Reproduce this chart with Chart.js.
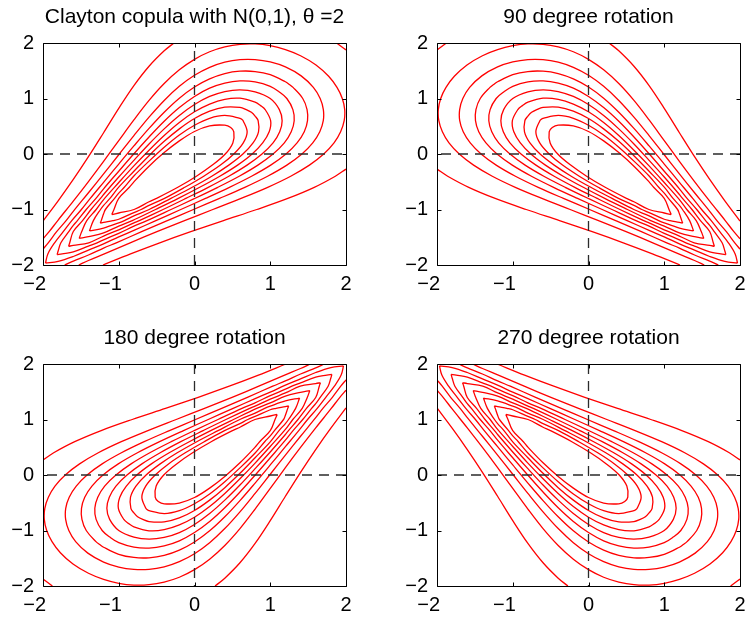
<!DOCTYPE html>
<html><head><meta charset="utf-8">
<script src="https://cdn.jsdelivr.net/npm/chart.js@4.4.1/dist/chart.umd.min.js"></script>
<style>
html,body{margin:0;padding:0;background:#fff;overflow:hidden;width:751px;height:621px;position:relative;}
canvas{position:absolute;}
</style></head><body>
<canvas id="p1" width="389" height="310" style="left:0px;top:0px"></canvas>
<canvas id="p2" width="389" height="310" style="left:394px;top:0px"></canvas>
<canvas id="p3" width="389" height="310" style="left:0px;top:321px"></canvas>
<canvas id="p4" width="389" height="310" style="left:394px;top:321px"></canvas>
<script>
// ---- tick values and panel titles ----
const axisTicks = [-2, -1, 0, 1, 2];
const titles = ['Clayton copula with N(0,1), \u03b8 =2', '90 degree rotation', '180 degree rotation', '270 degree rotation'];
// rotation of each panel: sign applied to x and y of the base contours
const rotX = [1, -1, -1, 1];
const rotY = [1, 1, -1, -1];
// dashed reference lines (x = 0 and y = 0)
const zeroLineH = [[-2, 0], [2, 0]];
const zeroLineV = [[0, -2], [0, 2]];

// ---- contour lines of the first panel, outer to inner ----
// level ~0.01 : three pieces cut by the frame
const c01a = [[-2,-1.208],[-1.8,-0.844],[-1.6,-0.459],[-1.4,-0.049],[-1.2,0.383],[-1.0,0.822],[-0.8,1.232],[-0.6,1.581],[-0.4,1.859],[-0.272,2]];
const c01b = [[-1.208,-2],[-0.844,-1.8],[-0.459,-1.6],[-0.049,-1.4],[0.383,-1.2],[0.822,-1.0],[1.232,-0.8],[1.581,-0.6],[1.859,-0.4],[2,-0.272]];
const c01c = [[1.876,2],[1.938,1.938],[2,1.876]];
// level ~0.03
const c03 = [[-2,-1.528],[-1.919,-1.4],[-1.8,-1.19],[-1.6,-0.849],[-1.4,-0.496],[-1.2,-0.132],[-1.0,0.242],[-0.8,0.615],[-0.6,0.966],[-0.4,1.27],[-0.2,1.517],[0,1.706],[0.2,1.842],[0.4,1.929],[0.6,1.976],[0.8,1.983],[1.0,1.951],[1.2,1.881],[1.4,1.771],[1.604,1.604],
  [1.771,1.4],[1.881,1.2],[1.951,1.0],[1.983,0.8],[1.976,0.6],[1.929,0.4],[1.842,0.2],[1.706,0],[1.517,-0.2],[1.27,-0.4],[0.966,-0.6],[0.615,-0.8],[0.242,-1.0],[-0.132,-1.2],[-0.496,-1.4],[-0.849,-1.6],[-1.19,-1.8],[-1.4,-1.919],[-1.528,-2]];
// level ~0.05
const c05 = [[-2,-1.714],[-1.931,-1.6],[-1.82,-1.4],[-1.695,-1.2],[-1.6,-1.033],[-1.4,-0.698],[-1.2,-0.359],[-1.0,-0.014],[-0.8,0.331],[-0.6,0.664],[-0.4,0.965],[-0.2,1.219],[0,1.418],[0.2,1.561],[0.4,1.654],[0.6,1.7],[0.8,1.701],[1.0,1.659],[1.2,1.569],[1.408,1.408],
  [1.569,1.2],[1.659,1.0],[1.701,0.8],[1.7,0.6],[1.654,0.4],[1.561,0.2],[1.418,0],[1.219,-0.2],[0.965,-0.4],[0.664,-0.6],[0.331,-0.8],[-0.014,-1.0],[-0.359,-1.2],[-0.698,-1.4],[-1.033,-1.6],[-1.2,-1.695],[-1.4,-1.82],[-1.6,-1.931],[-1.714,-2]];
// level ~0.07
const c07 = [[-1.967,-1.967],[-1.936,-1.8],[-1.847,-1.6],[-1.733,-1.4],[-1.62,-1.2],[-1.493,-1.0],[-1.376,-0.8],[-1.2,-0.51],[-1.0,-0.181],[-0.8,0.145],[-0.6,0.461],[-0.4,0.753],[-0.2,1.006],[0,1.208],[0.2,1.354],[0.4,1.449],[0.6,1.492],[0.8,1.486],[1.0,1.429],[1.2,1.301],[1.252,1.252],
  [1.301,1.2],[1.429,1.0],[1.486,0.8],[1.492,0.6],[1.449,0.4],[1.354,0.2],[1.208,0],[1.006,-0.2],[0.753,-0.4],[0.461,-0.6],[0.145,-0.8],[-0.181,-1.0],[-0.51,-1.2],[-0.8,-1.376],[-1.0,-1.493],[-1.2,-1.62],[-1.4,-1.733],[-1.6,-1.847],[-1.8,-1.936],[-1.967,-1.967]];
// level ~0.09
const c09 = [[-1.814,-1.814],[-1.8,-1.747],[-1.764,-1.6],[-1.66,-1.4],[-1.6,-1.286],[-1.546,-1.2],[-1.429,-1.0],[-1.301,-0.8],[-1.2,-0.627],[-1.0,-0.31],[-0.8,0.004],[-0.6,0.307],[-0.4,0.59],[-0.2,0.837],[0,1.037],[0.2,1.186],[0.4,1.277],[0.6,1.316],[0.8,1.299],[1.0,1.219],[1.118,1.118],
  [1.219,1.0],[1.299,0.8],[1.316,0.6],[1.277,0.4],[1.186,0.2],[1.037,0],[0.837,-0.2],[0.59,-0.4],[0.307,-0.6],[0.004,-0.8],[-0.31,-1.0],[-0.627,-1.2],[-0.8,-1.301],[-1.0,-1.429],[-1.2,-1.546],[-1.286,-1.6],[-1.4,-1.66],[-1.6,-1.764],[-1.747,-1.8],[-1.814,-1.814]];
// level ~0.11
const c11 = [[-1.663,-1.663],[-1.647,-1.6],[-1.6,-1.396],[-1.478,-1.2],[-1.366,-1.0],[-1.241,-0.8],[-1.2,-0.729],[-1.0,-0.415],[-0.8,-0.114],[-0.6,0.181],[-0.4,0.453],[-0.2,0.694],[0,0.891],[0.2,1.037],[0.4,1.125],[0.6,1.157],[0.8,1.12],[1.0,1.0],
  [1.12,0.8],[1.157,0.6],[1.125,0.4],[1.037,0.2],[0.891,0],[0.694,-0.2],[0.453,-0.4],[0.181,-0.6],[-0.114,-0.8],[-0.415,-1.0],[-0.729,-1.2],[-0.8,-1.241],[-1.0,-1.366],[-1.2,-1.478],[-1.396,-1.6],[-1.6,-1.647],[-1.663,-1.663]];
// level ~0.13
const c13 = [[-1.522,-1.522],[-1.49,-1.4],[-1.422,-1.2],[-1.298,-1.0],[-1.2,-0.821],[-1.0,-0.514],[-0.8,-0.214],[-0.6,0.069],[-0.4,0.334],[-0.2,0.569],[0,0.761],[0.2,0.9],[0.4,0.986],[0.6,1.005],[0.8,0.933],[0.872,0.872],
  [0.933,0.8],[1.005,0.6],[0.986,0.4],[0.9,0.2],[0.761,0],[0.569,-0.2],[0.334,-0.4],[0.069,-0.6],[-0.214,-0.8],[-0.514,-1.0],[-0.821,-1.2],[-1.0,-1.298],[-1.2,-1.422],[-1.4,-1.49],[-1.522,-1.522]];
// level ~0.15
const c15 = [[-1.387,-1.387],[-1.335,-1.2],[-1.241,-1.0],[-1.2,-0.926],[-1.116,-0.8],[-1.0,-0.598],[-0.8,-0.311],[-0.6,-0.03],[-0.4,0.228],[-0.2,0.453],[0,0.639],[0.2,0.773],[0.4,0.845],[0.6,0.84],[0.683,0.8],[0.751,0.751],
  [0.8,0.683],[0.84,0.6],[0.845,0.4],[0.773,0.2],[0.639,0],[0.453,-0.2],[0.228,-0.4],[-0.03,-0.6],[-0.311,-0.8],[-0.598,-1.0],[-0.8,-1.116],[-0.926,-1.2],[-1.0,-1.241],[-1.2,-1.335],[-1.387,-1.387]];
// level ~0.17
const c17 = [[-1.244,-1.244],[-1.231,-1.2],[-1.2,-1.077],[-1.176,-1.0],[-1.055,-0.8],[-1.0,-0.704],[-0.927,-0.6],[-0.8,-0.396],[-0.6,-0.128],[-0.4,0.122],[-0.2,0.343],[0,0.519],[0.2,0.644],[0.4,0.695],[0.6,0.642],[0.624,0.624],
  [0.642,0.6],[0.695,0.4],[0.644,0.2],[0.519,0],[0.343,-0.2],[0.122,-0.4],[-0.128,-0.6],[-0.396,-0.8],[-0.6,-0.927],[-0.704,-1.0],[-0.8,-1.055],[-1.0,-1.176],[-1.077,-1.2],[-1.2,-1.231],[-1.244,-1.244]];
// level ~0.19 (innermost)
const c19 = [[-1.092,-1.092],[-1.063,-1.0],[-1.0,-0.798],[-0.86,-0.6],[-0.8,-0.502],[-0.6,-0.22],[-0.4,0.025],[-0.2,0.236],[0,0.406],[0.2,0.506],[0.4,0.519],[0.478,0.478],
  [0.519,0.4],[0.506,0.2],[0.406,0],[0.236,-0.2],[0.025,-0.4],[-0.22,-0.6],[-0.502,-0.8],[-0.6,-0.86],[-0.798,-1.0],[-1.0,-1.063],[-1.092,-1.092]];

const contourLines = [c01a, c01b, c01c, c03, c05, c07, c09, c11, c13, c15, c17, c19];

Chart.defaults.font.family = "'Liberation Sans', Arial, Helvetica, sans-serif";
Chart.defaults.color = '#000';

const TICK_LEN = 4;
const framePlugin = {
  id: 'matlabFrame',
  afterDatasetsDraw(chart) {
    const ctx = chart.ctx, a = chart.chartArea, xs = chart.scales.x, ys = chart.scales.y;
    ctx.save();
    ctx.strokeStyle = '#000';
    ctx.lineWidth = 1;
    const L = Math.round(a.left) + 0.5, R = Math.round(a.right) + 0.5, T = Math.round(a.top) + 0.5, B = Math.round(a.bottom) + 0.5;
    ctx.beginPath();
    ctx.rect(L, T, R - L, B - T);
    axisTicks.forEach(v => {
      const px = Math.round(xs.getPixelForValue(v)) + 0.5;
      ctx.moveTo(px, B); ctx.lineTo(px, B - TICK_LEN);
      ctx.moveTo(px, T); ctx.lineTo(px, T + TICK_LEN);
      const py = Math.round(ys.getPixelForValue(v)) + 0.5;
      ctx.moveTo(L, py); ctx.lineTo(L + TICK_LEN, py);
      ctx.moveTo(R, py); ctx.lineTo(R - TICK_LEN, py);
    });
    ctx.stroke();
    ctx.restore();
  }
};

// y labels: plain; x labels: negative ones sit a little left of their tick, as in the original
function fmtY(v) { return v < 0 ? '\u2212' + Math.abs(v) : String(v); }
function fmtX(v) { return v < 0 ? '\u2212' + Math.abs(v) + '   ' : String(v); }

function makePanel(id, k) {
  const sx = rotX[k], sy = rotY[k];
  const toPts = arr => arr.map(p => ({ x: p[0] * sx, y: p[1] * sy }));
  const datasets = [];
  const dash = { showLine: true, borderColor: '#2b2b2b', borderWidth: 1.3, borderDash: [10, 7], pointRadius: 0, tension: 0 };
  datasets.push(Object.assign({ data: toPts(zeroLineH) }, dash));
  datasets.push(Object.assign({ data: toPts(zeroLineV) }, dash));
  contourLines.forEach(c => {
    datasets.push({ data: toPts(c), showLine: true, borderColor: '#ff0000', borderWidth: 1.3, pointRadius: 0, tension: 0.35 });
  });
  new Chart(document.getElementById(id), {
    type: 'scatter',
    data: { datasets },
    options: {
      responsive: false,
      animation: false,
      devicePixelRatio: 1,
      layout: { padding: 0 },
      plugins: {
        legend: { display: false },
        tooltip: { enabled: false },
        title: { display: true, text: titles[k], font: { size: 21, weight: 'normal', lineHeight: 1.2 }, color: '#000', padding: { top: 5, bottom: 12.8 } }
      },
      scales: {
        x: {
          type: 'linear', position: 'bottom', min: -2, max: 2,
          afterFit: s => { s.height = 45; },
          afterBuildTicks: s => { s.ticks = axisTicks.map(v => ({ value: v })); },
          grid: { display: false, drawTicks: false },
          border: { display: false },
          ticks: { callback: fmtX, font: { size: 20 }, padding: 7, maxRotation: 0, autoSkip: false }
        },
        y: {
          type: 'linear', position: 'left', min: -2, max: 2,
          afterFit: s => { s.width = 43; },
          afterBuildTicks: s => { s.ticks = axisTicks.map(v => ({ value: v })); },
          grid: { display: false, drawTicks: false },
          border: { display: false },
          ticks: { callback: fmtY, font: { size: 20 }, padding: 9, autoSkip: false }
        },
        yRight: {
          type: 'linear', position: 'right', min: -2, max: 2,
          afterFit: s => { s.width = 43; },
          grid: { display: false, drawTicks: false },
          border: { display: false },
          ticks: { display: false }
        }
      }
    },
    plugins: [framePlugin]
  });
}
['p1', 'p2', 'p3', 'p4'].forEach((id, k) => makePanel(id, k));
</script>
</body></html>
